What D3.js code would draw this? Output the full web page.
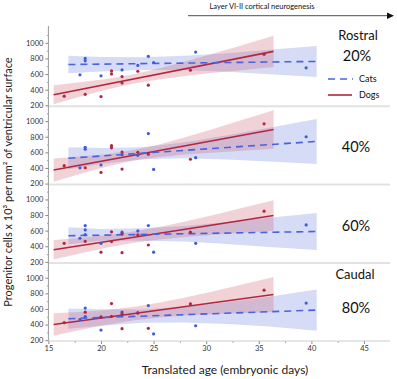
<!DOCTYPE html>
<html><head><meta charset="utf-8">
<script src="https://cdn.jsdelivr.net/npm/d3@7"></script>
<style>body{margin:0;background:#fff}svg{display:block}text{font-family:Lato,"Open Sans",sans-serif}</style>
</head><body>
<svg id="c" width="397" height="379"></svg>
<script>
// ---- data ----
const panelLabels = ["20%", "40%", "60%", "80%"];
const xTicks = [15, 20, 25, 30, 35, 40, 45];
const yTicks = [200, 400, 600, 800, 1000];

// points [day, value] per panel
const catsPoints = [
  [[18,590],[18.5,800],[18.5,770],[20,578],[22,653],[23.5,710],[24.5,827],[25,748],[29,882],[39.5,680]],
  [[18,402],[18.5,665],[18.5,640],[20,438],[22,572],[23.5,562],[24.5,840],[25,382],[29,532],[39.5,800]],
  [[18,503],[18.5,665],[18.5,610],[18.5,550],[20,438],[22,581],[23.5,596],[24.5,666],[25,324],[29,438],[39.5,674]],
  [[18,465],[18.5,611],[18.5,502],[20,330],[20,500],[22,560],[23.5,554],[24.5,643],[25,280],[29,385],[39.5,676]]
];
const dogsPoints = [
  [[16.5,317],[18.5,341],[20,312],[21,640],[21,602],[22,568],[22,487],[23.5,636],[24.5,457],[28.5,649],[35.5,853]],
  [[16.5,430],[18.5,403],[20,343],[21,686],[21,658],[22,603],[22,386],[23.5,600],[24.5,577],[28.5,512],[35.5,966]],
  [[16.5,438],[18.5,463],[20,324],[21,585],[21,460],[22,560],[22,318],[23.5,545],[24.5,416],[28.5,581],[35.5,850]],
  [[16.5,424],[18.5,559],[20,495],[21,669],[21,505],[22,537],[22,348],[23.5,545],[24.5,352],[28.5,665],[35.5,840]]
];
// fitted lines [day, value]
const catsFit = [
  [[16.9,722],[40.5,762]],
  [[16.9,525],[40.5,740]],
  [[16.9,535],[40.5,589]],
  [[16.9,475],[40.5,586]]
];
const dogsFit = [
  [[15.5,335],[36.4,891]],
  [[15.5,373],[36.4,892]],
  [[15.5,356],[36.4,794]],
  [[15.5,400],[36.4,786]]
];
// confidence bands [day, low, high]
const catsBand = [
  [[16.9,609,835],[20,634,820],[24,652,816],[28,648,834],[32,628,868],[36,599,910],[40.5,563,961]],
  [[16.9,383,667],[20,451,655],[24,513,667],[28,524,728],[32,508,818],[36,483,915],[40.5,452,1028]],
  [[16.9,425,645],[20,470,620],[24,471,631],[28,460,660],[32,430,710],[36,390,766],[40.5,352,827]],
  [[16.9,345,605],[20,385,595],[24,423,593],[28,427,627],[32,406,686],[36,375,755],[40.5,320,850]]
];
const dogsBand = [
  [[15.5,213,457],[18,309,494],[20.5,398,538],[23,475,595],[25.5,531,671],[28,575,760],[30.5,612,856],[33,647,954],[36.4,692,1090]],
  [[15.5,224,522],[18,324,546],[20.5,417,577],[23,492,626],[25.5,541,701],[28,572,794],[30.5,596,894],[33,618,998],[36.4,645,1139]],
  [[15.5,231,481],[18,309,507],[20.5,381,541],[23,441,585],[25.5,486,646],[28,519,717],[30.5,545,795],[33,569,877],[36.4,598,990]],
  [[15.5,256,544],[18,330,562],[20.5,397,587],[23,452,626],[25.5,490,680],[28,515,747],[30.5,533,821],[33,546,900],[36.4,562,1010]]
];

// ---- drawing ----
const svg = d3.select("#c");
const left = 48.4, right = 390;
const x = d3.scaleLinear().domain([15, 45]).range([left, 364]);
const panelTop0 = 28, panelH = 78.3;
const blue = "#3f5bd8", red = "#b32640";

for (let i = 0; i < 4; i++) {
  const top = panelTop0 + i * panelH;
  const y = d3.scaleLinear().domain([187, 1190]).range([top + panelH, top]);
  const g = svg.append("g");

  const area = d3.area().x(d => x(d[0])).y0(d => y(d[1])).y1(d => y(d[2]));
  g.append("path").datum(catsBand[i]).attr("d", area).attr("fill", "rgb(90,110,220)").attr("fill-opacity", 0.25);
  g.append("path").datum(dogsBand[i]).attr("d", area).attr("fill", "rgb(200,80,95)").attr("fill-opacity", 0.25);

  const line = d3.line().x(d => x(d[0])).y(d => y(d[1]));
  g.append("path").datum(dogsFit[i]).attr("d", line).attr("stroke", red).attr("stroke-width", 1.6).attr("fill", "none");
  g.append("path").datum(catsFit[i]).attr("d", line).attr("stroke", "#4a63dc").attr("stroke-width", 1.6)
    .attr("stroke-dasharray", "7,5").attr("fill", "none");

  g.selectAll(".cp").data(catsPoints[i]).enter().append("circle")
    .attr("cx", d => x(d[0])).attr("cy", d => y(d[1])).attr("r", 1.6).attr("fill", blue);
  g.selectAll(".dp").data(dogsPoints[i]).enter().append("circle")
    .attr("cx", d => x(d[0])).attr("cy", d => y(d[1])).attr("r", 1.6).attr("fill", red);

  // y axis
  const ax = d3.axisLeft(y).tickValues(yTicks).tickSize(3).tickPadding(2).tickFormat(d3.format("d"));
  const ag = svg.append("g").attr("transform", `translate(${left},0)`).call(ax);
  ag.select(".domain").remove();
  ag.selectAll("line").attr("stroke", "#888");
  ag.selectAll("text").attr("font-size", 7.5).attr("fill", "#333");
  const minor = svg.append("g").attr("transform", `translate(${left},0)`)
    .call(d3.axisLeft(y).tickValues([300, 500, 700, 900, 1100]).tickSize(1.5).tickFormat(""));
  minor.select(".domain").remove();
  minor.selectAll("line").attr("stroke", "#aaa");

  if (i > 0) {
    svg.append("line").attr("x1", left).attr("x2", right).attr("y1", top).attr("y2", top)
      .attr("stroke", "#e2e2e2").attr("stroke-width", 2);
  }
}

// y axis line
svg.append("line").attr("x1", left).attr("x2", left).attr("y1", 26).attr("y2", 341)
  .attr("stroke", "#999").attr("stroke-width", 1);

// x axis
const xg = svg.append("g").attr("transform", "translate(0,341)")
  .call(d3.axisBottom(x).tickValues(xTicks).tickSize(3).tickPadding(2));
xg.select(".domain").remove();
xg.selectAll("line").attr("stroke", "#888");
xg.selectAll("text").attr("font-size", 7.5).attr("fill", "#333");
const xm = svg.append("g").attr("transform", "translate(0,341)")
  .call(d3.axisBottom(x).tickValues(d3.range(17.5, 47.5, 5)).tickSize(2).tickFormat(""));
xm.select(".domain").remove();
xm.selectAll("line").attr("stroke", "#aaa");
svg.append("line").attr("x1", left).attr("x2", right).attr("y1", 341).attr("y2", 341)
  .attr("stroke", "#ccc").attr("stroke-width", 1);

// titles
svg.append("text").attr("x", 225).attr("y", 374).attr("text-anchor", "middle")
  .attr("font-size", 12).attr("fill", "#222").text("Translated age (embryonic days)");
svg.append("text").attr("transform", "translate(12,182) rotate(-90)").attr("text-anchor", "middle")
  .attr("font-size", 11).attr("fill", "#222")
  .text("Progenitor cells x 10³ per mm² of ventricular surface");

// top annotation
svg.append("text").attr("x", 262).attr("y", 9).attr("text-anchor", "middle")
  .attr("font-size", 7.5).attr("fill", "#111").text("Layer VI-II cortical neurogenesis");
svg.append("line").attr("x1", 188).attr("x2", 388).attr("y1", 15.7).attr("y2", 15.7)
  .attr("stroke", "#222").attr("stroke-width", 0.8);
svg.append("path").attr("d", "M387,12.5 L394,15.7 L387,18.9 Z").attr("fill", "#111");

// right labels
const lab = (t, xx, yy, fs) => svg.append("text").attr("x", xx).attr("y", yy).attr("text-anchor", "middle")
  .attr("font-size", fs).attr("fill", "#111").text(t);
lab("Rostral", 358, 40, 13);
lab(panelLabels[0], 357, 60.5, 14.5);
lab(panelLabels[1], 356, 151.5, 14.5);
lab(panelLabels[2], 356, 231, 14.5);
lab("Caudal", 355, 278.5, 13);
lab(panelLabels[3], 356, 313, 14.5);

// legend
svg.append("line").attr("x1", 328).attr("x2", 353).attr("y1", 79).attr("y2", 79)
  .attr("stroke", "#4a63dc").attr("stroke-width", 1.6).attr("stroke-dasharray", "7,5");
svg.append("line").attr("x1", 328).attr("x2", 352).attr("y1", 95).attr("y2", 95)
  .attr("stroke", red).attr("stroke-width", 1.6);
svg.append("text").attr("x", 359).attr("y", 82).attr("font-size", 9).attr("fill", "#111").text("Cats");
svg.append("text").attr("x", 359).attr("y", 98).attr("font-size", 9).attr("fill", "#111").text("Dogs");
</script>
</body></html>
